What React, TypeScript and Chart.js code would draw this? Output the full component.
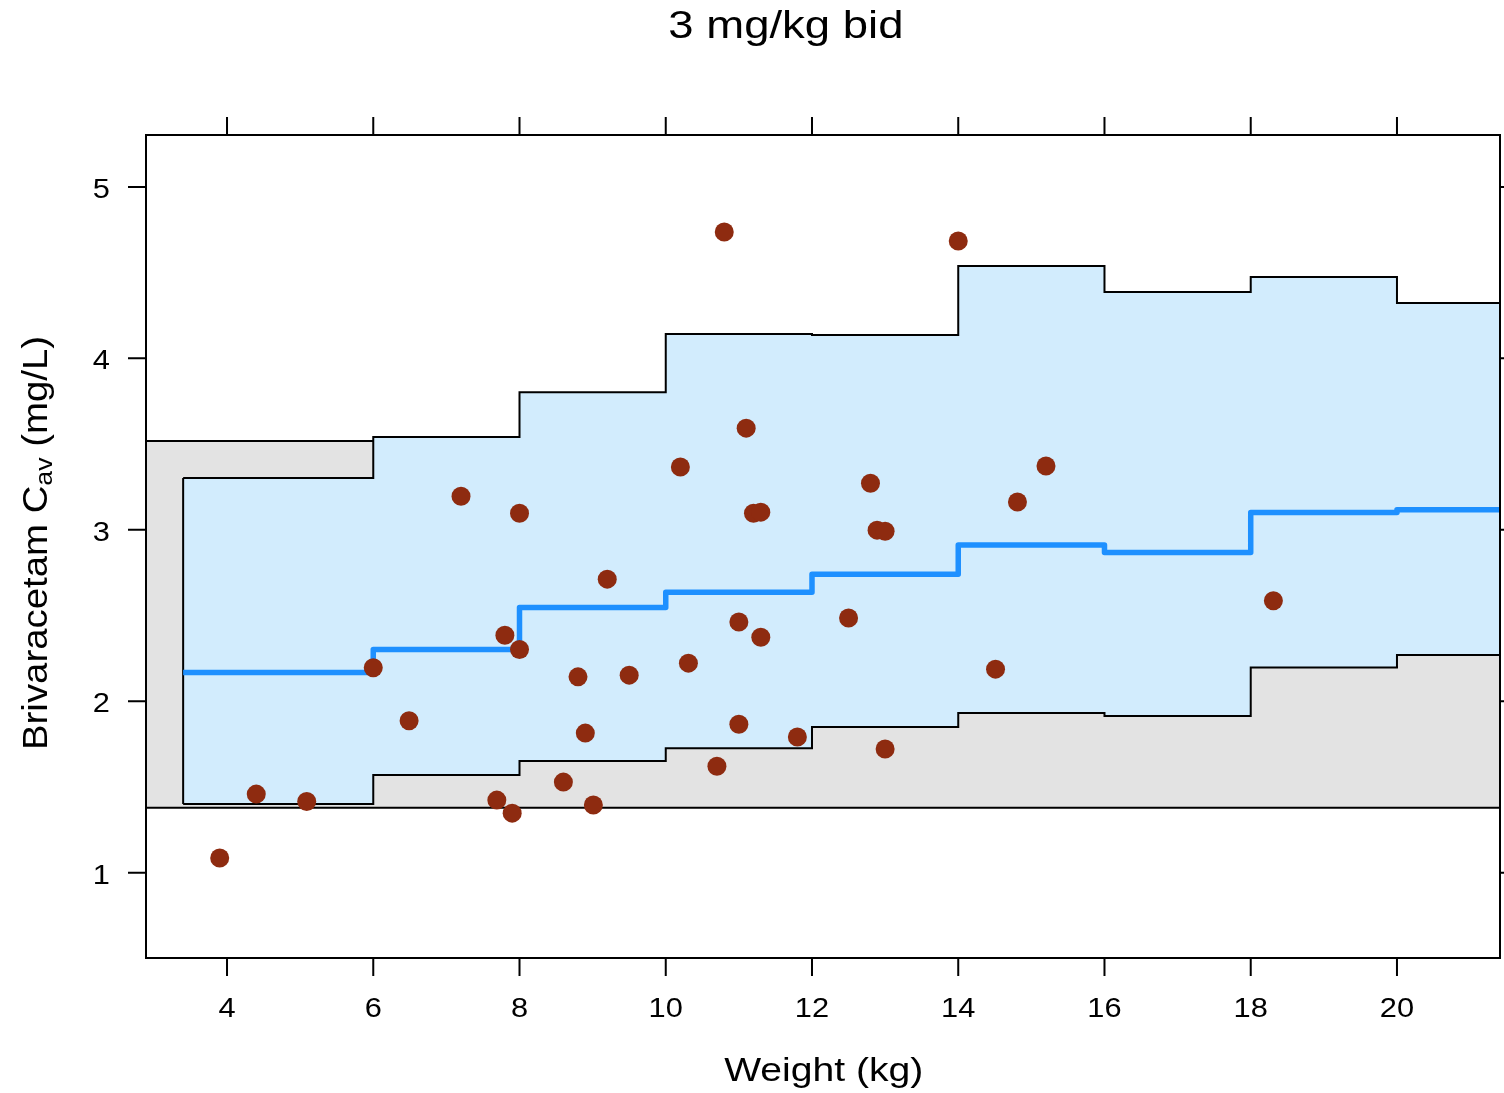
import { useEffect, useRef } from "react";
import { Chart, registerables } from "chart.js";

Chart.register(...registerables);

// ---------- data ----------
const titleText = "3 mg/kg bid";
const xTitle = "Weight (kg)";
const yTitleMain = "Brivaracetam C";
const yTitleSub = "av";
const yTitleTail = " (mg/L)";

const xTicks = [4, 6, 8, 10, 12, 14, 16, 18, 20];
const yTicks = [1, 2, 3, 4, 5];
const xRange = [2.892, 21.409];
const yRange = [0.502, 5.303];

// weight bin edges (step starts); last entry extends beyond the axis
const binEdges = [3.4, 6, 8, 10, 12, 14, 16, 18, 20, 22];
const lowerBand = [1.4, 1.569, 1.651, 1.726, 1.849, 1.931, 1.913, 2.197, 2.269, 2.269];
const upperBand = [3.302, 3.541, 3.803, 4.142, 4.136, 4.539, 4.387, 4.475, 4.323, 4.323];
const medianCav = [2.168, 2.302, 2.547, 2.635, 2.74, 2.911, 2.868, 3.101, 3.117, 3.117];

// reference (adult) range
const refLow = 1.378;
const refHigh = 3.518;

// observed individuals
const obsWeight = [
  3.9, 4.4, 5.09, 6.0, 6.49, 7.2, 7.69, 7.8, 7.9, 8.0, 8.0, 8.6, 8.8, 8.9, 9.01,
  9.2, 9.5, 10.2, 10.31, 10.7, 10.8, 11.0, 11.0, 11.1, 11.2, 11.3, 11.3, 11.8,
  12.5, 12.8, 12.89, 13.0, 13.0, 14.0, 14.51, 14.81, 15.2, 18.31,
];
const obsCav = [
  1.085, 1.458, 1.415, 2.195, 1.886, 3.196, 1.423, 2.385, 1.347, 3.097, 2.302,
  1.528, 2.142, 1.814, 1.394, 2.712, 2.152, 3.366, 2.222, 1.621, 4.737, 2.462,
  1.866, 3.593, 3.097, 3.103, 2.373, 1.791, 2.485, 3.272, 2.998, 2.992, 1.721,
  4.685, 2.187, 3.162, 3.372, 2.586,
];

// ---------- styles ----------
const FONT = '"Liberation Sans", Arial, Helvetica, sans-serif';
const BAND_FILL = "#D2ECFD";
const REF_FILL = "#E3E3E3";
const MEDIAN_COLOR = "#1E90FF";
const POINT_COLOR = "#8E2B10";
const INK = "#000000";
const NONE = "rgba(0,0,0,0)";

function fitText(
  ctx: CanvasRenderingContext2D,
  text: string,
  cx: number,
  baseline: number,
  size: number,
  targetInk: number
) {
  ctx.save();
  ctx.font = `${size}px ${FONT}`;
  ctx.textAlign = "left";
  ctx.textBaseline = "alphabetic";
  const m = ctx.measureText(text);
  const ink = m.actualBoundingBoxLeft + m.actualBoundingBoxRight;
  const s = targetInk / ink;
  ctx.translate(cx, baseline);
  ctx.scale(s, 1);
  const left = -ink / 2 + m.actualBoundingBoxLeft;
  ctx.fillStyle = INK;
  ctx.fillText(text, left, 0);
  ctx.restore();
}

function stretchText(
  ctx: CanvasRenderingContext2D,
  text: string,
  x: number,
  baseline: number,
  size: number,
  s: number,
  align: CanvasTextAlign
) {
  ctx.save();
  ctx.font = `${size}px ${FONT}`;
  ctx.textAlign = align;
  ctx.textBaseline = "alphabetic";
  ctx.translate(x, baseline);
  ctx.scale(s, 1);
  ctx.fillStyle = INK;
  ctx.fillText(text, 0, 0);
  ctx.restore();
}

const framePlugin = {
  id: "frame",
  afterDatasetsDraw(chart: any) {
    const ctx: CanvasRenderingContext2D = chart.ctx;
    const { left, right, top, bottom } = chart.chartArea;
    const xs = chart.scales.x;
    const ys = chart.scales.y;
    const tick = 18;

    ctx.save();
    ctx.strokeStyle = INK;
    ctx.lineWidth = 2;
    ctx.strokeRect(left, top, right - left, bottom - top);

    ctx.beginPath();
    xTicks.forEach((v) => {
      const px = xs.getPixelForValue(v);
      ctx.moveTo(px, bottom);
      ctx.lineTo(px, bottom + tick);
      ctx.moveTo(px, top);
      ctx.lineTo(px, top - tick);
    });
    yTicks.forEach((v) => {
      const py = ys.getPixelForValue(v);
      ctx.moveTo(left, py);
      ctx.lineTo(left - tick, py);
      ctx.moveTo(right, py);
      ctx.lineTo(right + tick, py);
    });
    ctx.stroke();
    ctx.restore();

    // tick labels
    xTicks.forEach((v) => {
      const px = xs.getPixelForValue(v);
      stretchText(ctx, String(v), px, bottom + 59, 28, 1.1, "center");
    });
    yTicks.forEach((v) => {
      const py = ys.getPixelForValue(v);
      stretchText(ctx, String(v), left - 36, py + 11, 28, 1.1, "right");
    });

    // titles
    fitText(ctx, titleText, 785.5, 37.7, 39, 232);
    fitText(ctx, xTitle, (left + right) / 2, 1080.7, 34, 197.7);

    // y title with subscript, rotated
    ctx.save();
    const mainSize = 34.5;
    const subSize = 24;
    ctx.translate(47, 543);
    ctx.rotate(-Math.PI / 2);
    ctx.font = `${mainSize}px ${FONT}`;
    const w1 = ctx.measureText(yTitleMain).width;
    const w3 = ctx.measureText(yTitleTail).width;
    ctx.font = `${subSize}px ${FONT}`;
    const w2 = ctx.measureText(yTitleSub).width;
    const total = w1 + w2 + w3;
    const s = 414 / total;
    ctx.scale(s, 1);
    ctx.fillStyle = INK;
    ctx.textAlign = "left";
    ctx.textBaseline = "alphabetic";
    let x = -total / 2;
    ctx.font = `${mainSize}px ${FONT}`;
    ctx.fillText(yTitleMain, x, 0);
    x += w1;
    ctx.font = `${subSize}px ${FONT}`;
    ctx.fillText(yTitleSub, x, 5);
    x += w2;
    ctx.font = `${mainSize}px ${FONT}`;
    ctx.fillText(yTitleTail, x, 0);
    ctx.restore();
  },
};

export default function App() {
  const canvasRef = useRef<HTMLCanvasElement | null>(null);

  useEffect(() => {
    document.body.style.margin = "0";
    const canvas = canvasRef.current;
    if (!canvas) return;

    const pts = (xsArr: number[], ysArr: number[]) =>
      xsArr.map((x, i) => ({ x, y: ysArr[i] }));
    const hline = (y: number) => [
      { x: xRange[0], y },
      { x: xRange[1], y },
    ];

    const lineBase = {
      showLine: true,
      pointRadius: 0,
      pointHoverRadius: 0,
      borderColor: INK,
      borderWidth: 2,
      fill: false,
    };
    const fillBase = {
      ...lineBase,
      borderColor: NONE,
      borderWidth: 1,
    };

    const chart = new Chart(canvas, {
      type: "scatter",
      data: {
        datasets: [
          // 0 observed points
          {
            label: "Observed",
            data: pts(obsWeight, obsCav),
            backgroundColor: POINT_COLOR,
            borderColor: POINT_COLOR,
            borderWidth: 0,
            pointRadius: 9.5,
            pointHoverRadius: 9.5,
            order: 1,
          },
          // 1 median
          {
            ...lineBase,
            label: "Median",
            data: pts(binEdges, medianCav),
            stepped: "before",
            borderColor: MEDIAN_COLOR,
            borderWidth: 5.5,
            borderJoinStyle: "round",
            borderCapStyle: "butt",
            order: 2,
          },
          // 2 band left edge
          {
            ...lineBase,
            label: "edge",
            data: [
              { x: binEdges[0], y: lowerBand[0] },
              { x: binEdges[0], y: upperBand[0] },
            ],
            order: 4,
          },
          // 3 upper band line
          {
            ...lineBase,
            label: "Upper",
            data: pts(binEdges, upperBand),
            stepped: "before",
            order: 5,
          },
          // 4 lower band line
          {
            ...lineBase,
            label: "Lower",
            data: pts(binEdges, lowerBand),
            stepped: "before",
            order: 6,
          },
          // 5 band fill (upper -> lower base)
          {
            ...fillBase,
            label: "BandFill",
            data: pts(binEdges, upperBand),
            stepped: "before",
            fill: { target: 6 },
            backgroundColor: BAND_FILL,
            order: 7,
          },
          // 6 band fill base
          {
            ...fillBase,
            label: "BandBase",
            data: pts(binEdges, lowerBand),
            stepped: "before",
            order: 8,
          },
          // 7 reference high line
          {
            ...lineBase,
            label: "RefHigh",
            data: hline(refHigh),
            order: 9,
          },
          // 8 reference low line
          {
            ...lineBase,
            label: "RefLow",
            data: hline(refLow),
            order: 10,
          },
          // 9 reference fill
          {
            ...fillBase,
            label: "RefFill",
            data: hline(refHigh),
            fill: { target: 10 },
            backgroundColor: REF_FILL,
            order: 11,
          },
          // 10 reference fill base
          {
            ...fillBase,
            label: "RefBase",
            data: hline(refLow),
            order: 12,
          },
        ],
      },
      options: {
        responsive: false,
        animation: false,
        devicePixelRatio: 1,
        layout: {
          autoPadding: false,
          padding: { left: 146, right: 4, top: 135, bottom: 135 },
        },
        scales: {
          x: { type: "linear", min: xRange[0], max: xRange[1], display: false },
          y: { type: "linear", min: yRange[0], max: yRange[1], display: false },
        },
        plugins: {
          legend: { display: false },
          tooltip: { enabled: false },
          title: { display: false },
          filler: { drawTime: "beforeDatasetDraw" },
        } as any,
        events: [],
      } as any,
      plugins: [framePlugin],
    });

    return () => chart.destroy();
  }, []);

  return (
    <div style={{ width: 1504, height: 1093, background: "#fff" }}>
      <canvas ref={canvasRef} width={1504} height={1093} style={{ display: "block" }} />
    </div>
  );
}
